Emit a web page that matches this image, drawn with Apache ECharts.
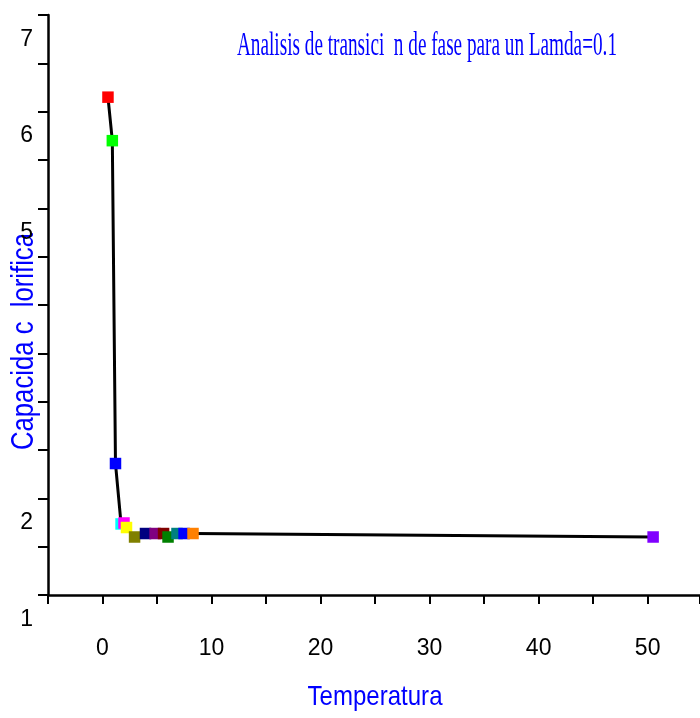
<!DOCTYPE html>
<html><head><meta charset="utf-8">
<script src="https://cdn.jsdelivr.net/npm/echarts@6/dist/echarts.min.js"></script>
<style>html,body{margin:0;padding:0;background:#fff}#c{width:700px;height:718px}</style>
</head><body><div id="c"></div>
<script>
const titleText = 'Analisis de transici  n de fase para un Lamda=0.1';
const xTitle = 'Temperatura';
const yTitle = 'Capacida c  lorifica';
const temperatura = [0.5, 0.9, 1.19, 1.7, 1.97, 2.2, 2.94, 3.94, 4.82, 5.6, 6.01, 6.83, 7.48, 8.3, 50.5];
const capacidad = [6.40, 5.95, 2.61, 1.985, 1.995, 1.948, 1.85, 1.886, 1.886, 1.886, 1.85, 1.886, 1.886, 1.886, 1.85];
const pointColors = ['#ff0000','#00ff00','#0000ff','#00ffff','#ff00ff','#ffff00','#808000','#000080','#800080','#800000','#008000','#008080','#0000ff','#ff8000','#8000ff'];
const xTickLabels = [0, 10, 20, 30, 40, 50];
const yTickLabels = [1, 2, 5, 6, 7];

function fitScale(text, font, target) {
  const ctx = document.createElement('canvas').getContext('2d');
  ctx.font = font;
  return target / ctx.measureText(text).width;
}
const titleFont = '33px "Liberation Serif", "Times New Roman", serif';
const axTitleFont = '28px "Liberation Sans", Arial, sans-serif';
const yTitleFont = '32px "Liberation Sans", Arial, sans-serif';

const pts = temperatura.map((x, i) => ({ value: [x, capacidad[i]], itemStyle: { color: pointColors[i], opacity: 1 } }));
const linePts = temperatura.map((x, i) => [x, capacidad[i]]);

const labelFont = { color: '#000', fontSize: 23, fontFamily: '"Liberation Sans Narrow", "Liberation Sans", Arial, sans-serif' };

const chart = echarts.init(document.getElementById('c'), null, { renderer: 'canvas' });
chart.setOption({
  animation: false,
  backgroundColor: '#fff',
  grid: [
    { left: 48, right: 0, top: 15, height: 580, outerBoundsMode: 'none' },
    { left: 48, right: 0, top: 15, height: 700.83, outerBoundsMode: 'none' }
  ],
  xAxis: [
    {
      type: 'value', gridIndex: 0, min: -5, max: 54.8, interval: 5,
      axisLine: { show: true, onZero: false, lineStyle: { color: '#000', width: 2.5 } },
      axisTick: { show: true, inside: false, length: 9, lineStyle: { color: '#000', width: 2 } },
      axisLabel: Object.assign({ margin: 42, formatter: v => xTickLabels.includes(v) ? String(v) : '' }, labelFont),
      splitLine: { show: false }
    },
    { type: 'value', gridIndex: 1, min: -5, max: 54.8, show: false }
  ],
  yAxis: [
    {
      type: 'value', gridIndex: 0, min: 1.25, max: 7.25, interval: 0.5,
      axisLine: { show: true, onZero: false, lineStyle: { color: '#000', width: 2.5 } },
      axisTick: { show: true, inside: false, length: 10, lineStyle: { color: '#000', width: 2 } },
      axisLabel: { show: false },
      splitLine: { show: false }
    },
    {
      type: 'value', gridIndex: 1, min: 0, max: 7.25, interval: 1,
      axisLine: { show: false }, axisTick: { show: false }, splitLine: { show: false },
      axisLabel: Object.assign({ margin: 15, formatter: v => yTickLabels.includes(v) ? String(v) : '' }, labelFont)
    }
  ],
  series: [
    {
      type: 'line', xAxisIndex: 0, yAxisIndex: 0, data: linePts, showSymbol: false, symbol: 'none',
      lineStyle: { color: '#000', width: 3 }, z: 2
    },
    {
      type: 'scatter', xAxisIndex: 0, yAxisIndex: 0, data: pts, symbol: 'rect', symbolSize: 11.5, z: 3,
      itemStyle: { opacity: 1 }
    }
  ],
  graphic: [
    { type: 'text', x: 427, y: 46, scaleX: fitScale(titleText, titleFont, 380),
      style: { text: titleText, font: titleFont, fill: '#0000ff', align: 'center', verticalAlign: 'middle' } },
    { type: 'text', x: 375, y: 697, scaleX: fitScale(xTitle, axTitleFont, 135),
      style: { text: xTitle, font: axTitleFont, fill: '#0000ff', align: 'center', verticalAlign: 'middle' } },
    { type: 'text', x: 24.5, y: 341.5, rotation: Math.PI / 2, scaleX: fitScale(yTitle, yTitleFont, 217),
      style: { text: yTitle, font: yTitleFont, fill: '#0000ff', align: 'center', verticalAlign: 'middle' } }
  ]
});
</script>
</body></html>
